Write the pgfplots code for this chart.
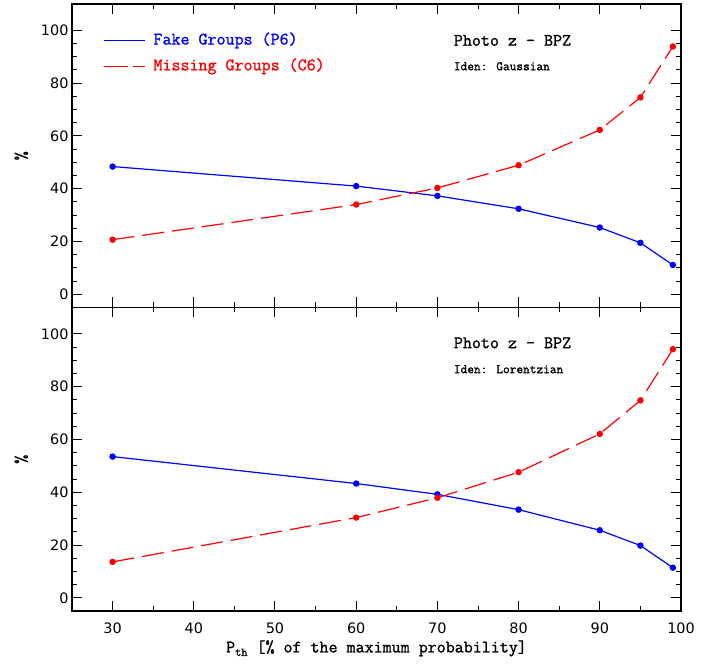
\documentclass[border=0pt]{standalone}
\usepackage{fontspec}
\usepackage{pgfplots}
\pgfplotsset{compat=1.18}
\newfontfamily\ticksfont{DejaVu Sans}
\newfontfamily\labfont[FakeBold=1.2]{Latin Modern Mono}
\newfontfamily\subfont[FakeBold=1.5]{Latin Modern Mono}
\newcommand{\lab}{\fontsize{17.5}{20}\selectfont\labfont}
\newcommand{\sublab}{\fontsize{13}{15}\selectfont\subfont}
\pgfplotsset{
  panel/.style={
    scale only axis, width=609pt, height=303.5pt,
    xmin=25, xmax=100, ymin=-5, ymax=110,
    xtick={30,40,...,100}, minor x tick num=1,
    ytick={0,20,...,100}, minor y tick num=3,
    tick align=inside, major tick length=10pt, minor tick length=5pt,
    axis line style={line width=1.6pt},
    every tick/.style={black, line width=1pt},
    tick label style={font=\fontsize{14.4}{16}\ticksfont},
    /pgf/number format/assume math mode=true,
    ylabel={\lab\%}, ylabel shift=6pt,
    xticklabel shift=8pt, xlabel shift=0pt,
    clip=false,
  },
  fake/.style={blue, line width=1.2pt, mark=*, mark size=2.6pt, mark options={solid}},
  miss/.style={red, line width=1.2pt, dash pattern=on 22pt off 8pt, mark=*, mark size=2.6pt, mark options={solid}},
}
\begin{document}
\begin{tikzpicture}
\useasboundingbox (-72pt,-53pt) rectangle (646pt,611pt);
% bottom panel
\begin{axis}[panel, at={(0pt,0pt)}, anchor=south west,
  xlabel={\lab P{\fontsize{12}{14}\selectfont\raisebox{-3.5pt}{\subfont th}} [\% of the maximum probability]}]
\addplot[fake] coordinates {(30,53.5) (60,43.3) (70,39.2) (80,33.4) (90,25.6) (95,19.8) (99,11.4)};
\addplot[miss] coordinates {(30,13.6) (60,30.4) (70,37.9) (80,47.6) (90,62.1) (95,74.8) (99,94.2)};
\node[anchor=west] at (axis cs:71.6,96.6) {\lab Photo z - BPZ};
\node[anchor=west] at (axis cs:71.6,86.6) {\sublab Iden: Lorentzian};
\end{axis}
% top panel
\begin{axis}[panel, at={(0pt,303.5pt)}, anchor=south west, xticklabels={}]
\addplot[fake] coordinates {(30,48.4) (60,41.0) (70,37.3) (80,32.4) (90,25.3) (95,19.5) (99,11.1)};
\addplot[miss] coordinates {(30,20.7) (60,34.0) (70,40.3) (80,48.9) (90,62.3) (95,74.6) (99,93.9)};
\draw[blue, line width=1.2pt] (axis cs:28.9,96.2) -- (axis cs:34.0,96.2);
\node[anchor=west, blue] at (axis cs:34.6,96.2) {\lab Fake Groups (P6)};
\draw[red, line width=1.2pt, dash pattern=on 24pt off 5pt] (axis cs:28.9,86.4) -- (axis cs:34.0,86.4);
\node[anchor=west, red] at (axis cs:34.6,86.4) {\lab Missing Groups (C6)};
\node[anchor=west] at (axis cs:71.6,96.2) {\lab Photo z - BPZ};
\node[anchor=west] at (axis cs:71.6,86.4) {\sublab Iden: Gaussian};
\end{axis}
\end{tikzpicture}
\end{document}
